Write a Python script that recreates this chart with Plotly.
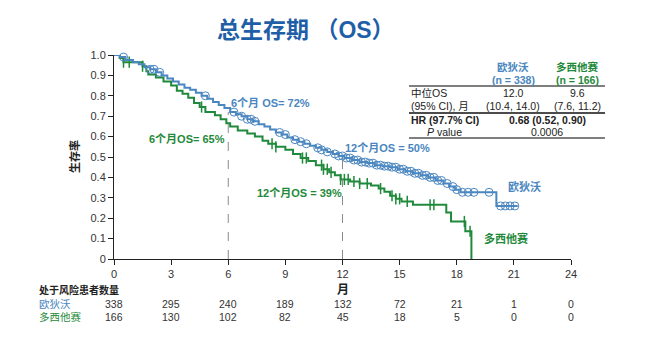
import plotly.graph_objects as go

# ---------------- data ----------------
blue_t = [0, 0.3, 0.6, 1.0, 1.3, 1.6, 1.9, 2.2, 2.5, 2.8, 3.1, 3.4, 3.7, 4.0, 4.3, 4.6, 4.9,
          5.2, 5.5, 5.8, 6.1, 6.4, 6.7, 7.0, 7.3, 7.6, 7.9, 8.2, 8.5, 8.8, 9.1, 9.4, 9.7,
          10.0, 10.3, 10.6, 10.9, 11.2, 11.5, 11.8, 12.1, 12.5, 12.9, 13.3, 13.7, 14.1,
          14.5, 14.9, 15.3, 15.7, 16.1, 16.5, 16.9, 17.3, 17.6, 17.9, 18.2, 20.08, 21.2]
blue_s = [1.0, 0.99, 0.975, 0.965, 0.955, 0.94, 0.93, 0.915, 0.90, 0.885, 0.87, 0.855, 0.84,
          0.83, 0.815, 0.80, 0.785, 0.77, 0.755, 0.74, 0.72, 0.71, 0.70, 0.685, 0.675, 0.66,
          0.65, 0.635, 0.62, 0.61, 0.595, 0.585, 0.575, 0.565, 0.555, 0.545, 0.535, 0.525,
          0.515, 0.505, 0.495, 0.485, 0.475, 0.47, 0.46, 0.455, 0.45, 0.44, 0.43, 0.42, 0.41,
          0.40, 0.385, 0.37, 0.355, 0.34, 0.327, 0.26, 0.26]
blue_censor = [0.5, 1.9, 2.1, 2.4, 4.8, 6.3, 6.7, 7.0, 7.2, 7.4, 8.7, 9.0, 9.5, 9.8, 10.1,
               10.7, 10.9, 11.2, 11.6, 11.8, 12.0, 12.2, 12.4, 12.6, 12.8, 13.0, 13.2, 13.4,
               13.6, 13.8, 14.0, 14.2, 14.4, 14.6, 14.8, 15.0, 15.2, 15.4, 15.6, 15.8, 16.0,
               16.2, 16.4, 16.6, 16.8, 17.0, 17.2, 17.5, 17.8, 18.0, 18.3, 18.6, 18.9, 19.7,
               20.3, 20.55, 20.8, 21.05]

green_t = [0, 0.3, 0.5, 1.5, 1.7, 1.8, 2.2, 2.6, 3.0, 3.3, 3.6, 3.9, 4.2, 4.5, 4.8, 5.3, 5.6,
           5.9, 6.1, 6.5, 7.0, 7.4, 7.8, 8.1, 8.5, 9.0, 9.4, 9.8, 10.2, 10.6, 11.0, 11.3, 11.6,
           11.9, 12.4, 12.9, 13.5, 13.9, 14.2, 14.5, 14.8, 15.1, 15.7, 17.45, 17.7, 18.45, 18.77]
green_s = [1.0, 0.985, 0.965, 0.945, 0.92, 0.905, 0.89, 0.87, 0.85, 0.825, 0.81, 0.79, 0.765,
           0.745, 0.72, 0.705, 0.685, 0.665, 0.65, 0.63, 0.615, 0.60, 0.58, 0.565, 0.55, 0.535,
           0.515, 0.495, 0.48, 0.46, 0.44, 0.425, 0.41, 0.39, 0.38, 0.37, 0.36, 0.345, 0.33,
           0.31, 0.295, 0.282, 0.266, 0.228, 0.184, 0.136, 0.0]
green_censor = [0.5, 0.8, 1.5, 4.6, 8.3, 8.5, 9.9, 10.1, 10.9, 11.0, 11.2, 11.4, 11.9, 12.1,
                12.3, 12.6, 12.9, 13.3, 14.0, 14.6, 14.8, 15.0, 15.4, 16.6, 16.8, 18.4, 18.7]

x_ticks = [0, 3, 6, 9, 12, 15, 18, 21, 24]
y_ticks = [0, 0.1, 0.2, 0.3, 0.4, 0.5, 0.6, 0.7, 0.8, 0.9, 1.0]
y_ticktext = ["0", "0.1", "0.2", "0.3", "0.4", "0.5", "0.6", "0.7", "0.8", "0.9", "1.0"]
risk_blue = [338, 295, 240, 189, 132, 72, 21, 1, 0]
risk_green = [166, 130, 102, 82, 45, 18, 5, 0, 0]
landmarks = [6, 12]
landmark_os_blue = [0.72, 0.50]

arm_names = ["欧狄沃", "多西他赛"]

# ---------------- style ----------------
BLUE = "#4a86c0"
GREEN = "#1f8a3b"
TITLE = "#1f5fa8"
FONT = "Liberation Sans, Arial, Noto Sans CJK SC, sans-serif"

W, H = 651, 353
L, R, T, B = 114, 571, 55, 259  # plot area in pixels


def px(xp):
    return (xp - L) / (R - L)


def py(yp):
    return (B - yp) / (B - T)


def step_at(ts, ss, t):
    v = ss[0]
    for ti, si in zip(ts, ss):
        if ti <= t:
            v = si
    return v


fig = go.Figure()

# landmark dashed lines
for lm, v in zip(landmarks, landmark_os_blue):
    fig.add_shape(type="line", x0=lm, x1=lm, y0=0, y1=v, xref="x", yref="y",
                  line=dict(color="#8a8a8a", width=1, dash="dash"))

fig.add_trace(go.Scatter(x=green_t, y=green_s, mode="lines", line=dict(shape="hv", color=GREEN, width=2),
                         showlegend=False, hoverinfo="skip"))
fig.add_trace(go.Scatter(x=green_censor, y=[step_at(green_t, green_s, t) for t in green_censor],
                         mode="markers", marker=dict(symbol="line-ns-open", size=8, color=GREEN,
                                                     line=dict(color=GREEN, width=1.5)),
                         showlegend=False, hoverinfo="skip", cliponaxis=False))
fig.add_trace(go.Scatter(x=blue_t, y=blue_s, mode="lines", line=dict(shape="hv", color=BLUE, width=2),
                         showlegend=False, hoverinfo="skip"))
fig.add_trace(go.Scatter(x=blue_censor, y=[step_at(blue_t, blue_s, t) for t in blue_censor],
                         mode="markers", marker=dict(symbol="circle-open", size=8, color=BLUE,
                                                     line=dict(color=BLUE, width=1)),
                         showlegend=False, hoverinfo="skip", cliponaxis=False))

ann = []


def text(x, y, s, size=11, color="#222", bold=False, xanchor="left", **kw):
    if bold:
        s = "<b>" + s + "</b>"
    ann.append(dict(x=px(x), y=py(y), xref="paper", yref="paper", text=s, showarrow=False,
                    xanchor=xanchor, yanchor="middle", font=dict(size=size, color=color, family=FONT), **kw))


# title
text(306, 30, "总生存期 （OS）", size=23, color=TITLE, bold=True, xanchor="center")
# y title
text(74, 157, "生存率", size=11, color="#222", bold=True, xanchor="center", textangle=-90)

# curve annotations
text(229, 103, "6个月 OS= 72%", color=BLUE, bold=True)
text(147, 139, "6个月OS= 65%", color=GREEN, bold=True)
text(343, 148, "12个月OS = 50%", color=BLUE, bold=True)
text(255, 193, "12个月OS = 39%", color=GREEN, bold=True)
text(506, 187, arm_names[0], color=BLUE, bold=True)
text(482, 238, arm_names[1], color=GREEN, bold=True)

# summary table
c1, c2 = 513, 577
text(c1, 67, arm_names[0], size=10.5, color=BLUE, bold=True, xanchor="center")
text(c1, 80, "(n = 338)", size=10.5, color=BLUE, bold=True, xanchor="center")
text(c2, 67, arm_names[1], size=10.5, color=GREEN, bold=True, xanchor="center")
text(c2, 80, "(n = 166)", size=10.5, color=GREEN, bold=True, xanchor="center")
text(409, 93, "中位OS", size=10.5)
text(409, 106, "(95% CI), 月", size=10.5)
text(c1, 93, "12.0", size=10.5, xanchor="center")
text(c1, 106, "(10.4, 14.0)", size=10.5, xanchor="center")
text(c2, 93, "9.6", size=10.5, xanchor="center")
text(c2, 106, "(7.6, 11.2)", size=10.5, xanchor="center")
text(409, 120, "HR (97.7% CI)", size=10.5, bold=True)
text(547, 120, "0.68 (0.52, 0.90)", size=10.5, bold=True, xanchor="center")
text(425, 132, "<i>P</i> value", size=10.5)
text(547, 132, "0.0006", size=10.5, xanchor="center")
for yl, col, wd in [(86, "#555", 1.5), (113, "#111", 1.5), (138, "#555", 1.5)]:
    fig.add_shape(type="line", xref="paper", yref="paper", x0=px(409), x1=px(605), y0=py(yl), y1=py(yl),
                  line=dict(color=col, width=wd))

# at-risk table
text(343, 290, "月", size=12, bold=True, xanchor="center")
text(37, 290, "处于风险患者数量", size=10, bold=True)
text(37, 304, arm_names[0], size=10.5, color=BLUE)
text(37, 317, arm_names[1], size=10.5, color=GREEN)
for xt, nb, ng in zip(x_ticks, risk_blue, risk_green):
    ann.append(dict(x=xt, y=py(304), xref="x", yref="paper", text=str(nb), showarrow=False,
                    xanchor="center", yanchor="middle", font=dict(size=10.5, color="#333", family=FONT)))
    ann.append(dict(x=xt, y=py(317), xref="x", yref="paper", text=str(ng), showarrow=False,
                    xanchor="center", yanchor="middle", font=dict(size=10.5, color="#333", family=FONT)))

fig.update_layout(
    width=W, height=H,
    margin=dict(l=L, r=W - R, t=T, b=H - B),
    paper_bgcolor="white", plot_bgcolor="white",
    annotations=ann, showlegend=False,
    xaxis=dict(range=[0, 24], tickvals=x_ticks, ticks="outside", ticklen=5, tickwidth=1,
               tickcolor="#222", showline=True, linecolor="#222", linewidth=1, showgrid=False,
               zeroline=False, tickfont=dict(size=11, color="#333", family=FONT)),
    yaxis=dict(range=[0, 1.0], tickvals=y_ticks, ticktext=y_ticktext, ticks="outside", ticklen=5,
               tickwidth=1, tickcolor="#222", showline=True, linecolor="#222", linewidth=1,
               showgrid=False, zeroline=False, tickfont=dict(size=11, color="#333", family=FONT)),
)

fig.write_html("out.html")
